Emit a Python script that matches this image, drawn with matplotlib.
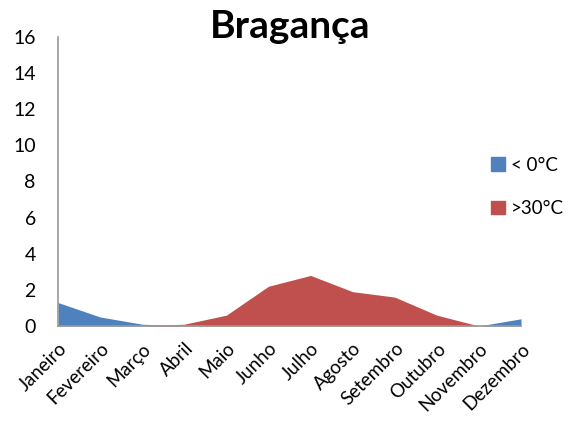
import numpy as np
import matplotlib
matplotlib.use('Agg')
from matplotlib import pyplot as plt
from matplotlib.patches import Patch

months = ['Janeiro', 'Fevereiro', 'Março', 'Abril', 'Maio', 'Junho', 'Julho',
          'Agosto', 'Setembro', 'Outubro', 'Novembro', 'Dezembro']
below_zero = [1.3, 0.5, 0.1, 0.0, 0.0, 0.0, 0.0, 0.0, 0.0, 0.0, 0.0, 0.4]
above_30 = [0.0, 0.0, 0.0, 0.1, 0.6, 2.2, 2.8, 1.9, 1.6, 0.6, 0.0, 0.0]
y_ticks = [0, 2, 4, 6, 8, 10, 12, 14, 16]

plt.rcParams['font.family'] = ['Lato', 'DejaVu Sans']

fig = plt.figure(figsize=(5.66, 4.24), dpi=100)
ax = fig.add_axes([58 / 566, 1 - 326 / 424, (521 - 58) / 566, (326 - 37) / 424])

x = np.arange(len(months))
blue = '#4f81bd'
red = '#c0504d'
ax.fill_between(x, below_zero, color=blue, linewidth=0)
ax.fill_between(x, above_30, color=red, linewidth=0)

ax.set_xlim(0, len(months) - 1)
ax.set_ylim(0, 16)
ax.set_yticks(y_ticks)
ax.set_yticklabels([str(v) for v in y_ticks], fontsize=14)
ax.set_xticks(x)
ax.set_xticklabels(months, rotation=45, ha='right', rotation_mode='anchor', fontsize=13.5)
ax.tick_params(length=0)
ax.tick_params(axis='y', pad=16)
ax.tick_params(axis='x', pad=10)

for side in ['top', 'right']:
    ax.spines[side].set_visible(False)
for side in ['left', 'bottom']:
    ax.spines[side].set_color('#999999')
    ax.spines[side].set_linewidth(1.2)

fig.text(290 / 566, 1 - 26 / 424, 'Bragança', ha='center', va='center',
         fontsize=28, fontweight='bold')

handles = [Patch(color=blue, label='< 0°C'), Patch(color=red, label='>30°C')]
fig.legend(handles=handles, loc='center left', bbox_to_anchor=(491 / 566, 1 - 187 / 424),
           frameon=False, fontsize=13.5, handlelength=0.75, handleheight=0.75,
           handletextpad=0.3, labelspacing=1.4, borderpad=0, borderaxespad=0)

fig.savefig('out.png', dpi=100)
